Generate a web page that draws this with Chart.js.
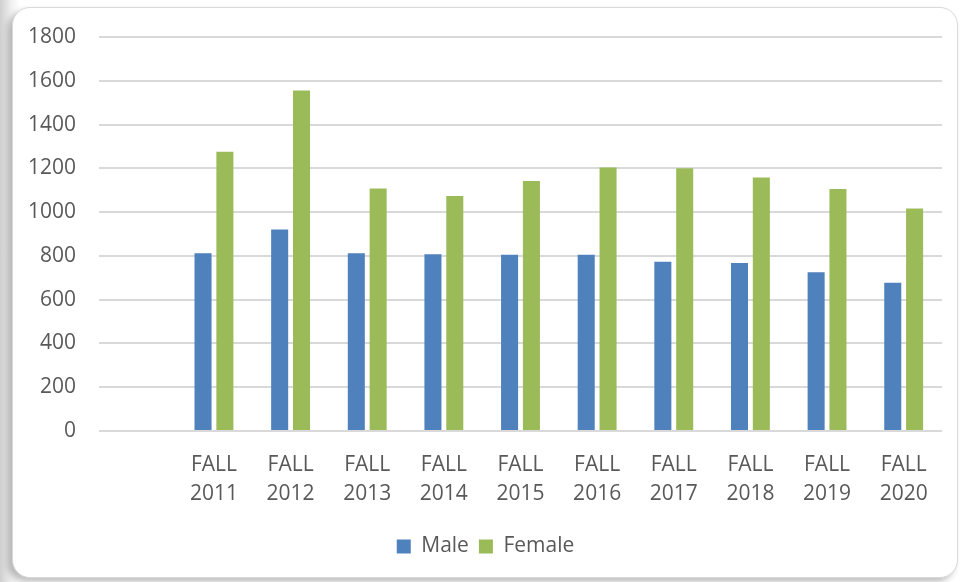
<!DOCTYPE html>
<html>
<head>
<meta charset="utf-8">
<script src="https://cdn.jsdelivr.net/npm/chart.js@4"></script>
<style>
  html, body { margin: 0; padding: 0; background: #fff; }
  #wrap { position: relative; width: 963px; height: 582px; overflow: hidden;
    background: linear-gradient(to right, #cfcfcf 0px, #f2f2f2 12px, #fff 20px); }
  #card { position: absolute; left: 12px; top: 7px; width: 944px; height: 569px;
    background: #fff; border: 1px solid #d9d9d9; border-radius: 18px;
    box-shadow: -4px 4px 6px rgba(0,0,0,0.25); }
  #chart { position: absolute; left: 0; top: 0; }
</style>
</head>
<body>
<div id="wrap">
  <div id="card"></div>
  <canvas id="chart" width="963" height="582"></canvas>
</div>
<script>
// first category is empty in the original chart
const categories = ['', 'FALL 2011', 'FALL 2012', 'FALL 2013', 'FALL 2014', 'FALL 2015',
  'FALL 2016', 'FALL 2017', 'FALL 2018', 'FALL 2019', 'FALL 2020']
const maleValues = [null, 812, 921, 812, 808, 805, 805, 773, 767, 725, 677]
const femaleValues = [null, 1276, 1556, 1108, 1074, 1142, 1204, 1200, 1158, 1106, 1017]
const yTicks = [0, 200, 400, 600, 800, 1000, 1200, 1400, 1600, 1800]

const ctx = document.querySelector('#chart').getContext('2d')
const textColor = '#595959'
const font = { family: '"Open Sans"', size: 21 }

new Chart(ctx, {
  type: 'bar',
  data: {
    labels: categories.map(c => c === '' ? '' : c.split(' ')),
    datasets: [
      {
        label: 'Male',
        data: maleValues,
        backgroundColor: '#4f81bd',
        categoryPercentage: 0.57,
        barPercentage: 0.78
      },
      {
        label: 'Female',
        data: femaleValues,
        backgroundColor: '#9bbb59',
        categoryPercentage: 0.57,
        barPercentage: 0.78
      }
    ]
  },
  options: {
    responsive: false,
    animation: false,
    layout: { padding: { left: 29, right: 21, top: 37, bottom: 15 } },
    plugins: {
      tooltip: { enabled: false },
      legend: {
        position: 'bottom',
        labels: {
          color: textColor,
          font: font,
          boxWidth: 14,
          boxHeight: 14,
          padding: 10
        }
      }
    },
    scales: {
      x: {
        grid: { display: false },
        border: { display: false },
        ticks: {
          color: textColor,
          font: { ...font, lineHeight: 1.36 },
          maxRotation: 0,
          autoSkip: false,
          padding: 12
        },
        afterFit: s => { s.height = 95 }
      },
      y: {
        min: 0,
        max: 1800,
        afterBuildTicks: s => { s.ticks = yTicks.map(v => ({ value: v })) },
        grid: { color: '#d9d9d9', lineWidth: 2, drawTicks: false },
        border: { display: false },
        ticks: {
          color: textColor,
          font: font,
          padding: 23,
          callback: v => String(v)
        },
        afterFit: s => { s.width = 70 }
      }
    }
  }
})
</script>
</body>
</html>
